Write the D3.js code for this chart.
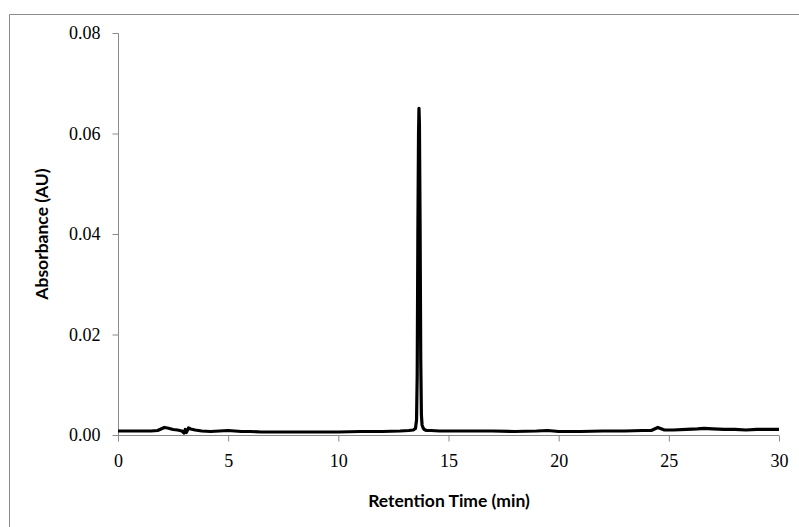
<!DOCTYPE html>
<html>
<head>
<meta charset="utf-8">
<script src="https://cdn.jsdelivr.net/npm/d3@7"></script>
<style>
  html, body { margin: 0; padding: 0; background: #fff; }
  svg { display: block; }
</style>
</head>
<body>
<svg id="chart" width="799" height="527"></svg>
<script>
// Retention time (min) and absorbance (AU)
const times = [0, 0.5, 1.0, 1.5, 1.8, 2.0, 2.1, 2.25, 2.5, 2.7, 2.9, 3.0, 3.05, 3.1, 3.2, 3.3, 3.5, 3.8, 4.2, 4.6, 5.0, 5.3, 5.6, 6.0, 6.5, 7.0, 7.5, 8.0, 9.0, 10.0, 11.0, 12.0, 12.8, 13.2, 13.4, 13.5, 13.55, 13.58, 13.61, 13.64, 13.66, 13.68, 13.71, 13.74, 13.77, 13.8, 13.85, 13.9, 14.0, 14.2, 14.6, 15.0, 16.0, 17.0, 18.0, 19.0, 19.5, 20.0, 21.0, 22.0, 23.0, 23.8, 24.2, 24.5, 24.8, 25.2, 25.8, 26.3, 26.6, 27.0, 27.5, 28.0, 28.5, 29.0, 29.5, 30.0];
const absorbance = [0.0008, 0.0008, 0.0008, 0.0008, 0.0009, 0.0013, 0.0015, 0.0014, 0.0011, 0.0010, 0.0008, 0.0004, 0.0011, 0.0005, 0.0014, 0.0012, 0.0010, 0.0008, 0.0007, 0.0008, 0.0009, 0.0008, 0.0007, 0.0007, 0.0006, 0.0006, 0.0006, 0.0006, 0.0006, 0.0006, 0.0007, 0.0007, 0.0008, 0.0009, 0.0010, 0.0013, 0.0030, 0.0120, 0.0400, 0.0600, 0.0650, 0.0620, 0.0420, 0.0150, 0.0040, 0.0020, 0.0014, 0.0011, 0.0009, 0.0009, 0.0008, 0.0008, 0.0008, 0.0008, 0.0007, 0.0008, 0.0009, 0.0007, 0.0007, 0.0008, 0.0008, 0.0009, 0.0009, 0.0015, 0.0010, 0.0010, 0.0011, 0.0012, 0.0013, 0.0012, 0.0011, 0.0011, 0.0010, 0.0011, 0.0011, 0.0011];
const xTicks = [0, 5, 10, 15, 20, 25, 30];
const yTicks = [0.00, 0.02, 0.04, 0.06, 0.08];
const xTitle = "Retention Time (min)";
const yTitle = "Absorbance (AU)";

const svg = d3.select("#chart");
const W = 799, H = 527;

// outer chart frame
svg.append("path")
  .attr("d", `M9.5,${H + 2} V14.5 H${W + 2}`)
  .attr("fill", "none")
  .attr("stroke", "#8c8c8c")
  .attr("stroke-width", 1);

const x = d3.scaleLinear().domain([0, 30]).range([118, 779]);
const y = d3.scaleLinear().domain([0, 0.08]).range([435, 33]);

const axisColor = "#8a8a8a";

// y axis
const gy = svg.append("g")
  .attr("transform", "translate(118.5,0)")
  .call(d3.axisLeft(y).tickValues(yTicks).tickFormat(d3.format(".2f")).tickSize(6).tickPadding(12));
// x axis
const gx = svg.append("g")
  .attr("transform", "translate(0,435.5)")
  .call(d3.axisBottom(x).tickValues(xTicks).tickFormat(d3.format("d")).tickSize(6).tickPadding(13));

[gx, gy].forEach(g => {
  g.select(".domain").attr("stroke", axisColor).attr("stroke-width", 1);
  g.selectAll(".tick line").attr("stroke", axisColor).attr("stroke-width", 1);
  g.selectAll(".tick text")
    .attr("fill", "#000")
    .style("font-family", "'Liberation Serif', serif")
    .style("font-size", "18px");
});
gy.select(".domain").attr("d", "M0,33.5V435.5");
gx.select(".domain").attr("d", "M118,0H779");

// line
const data = times.map((t, i) => ({ t, v: absorbance[i] }));
svg.append("path")
  .datum(data)
  .attr("fill", "none")
  .attr("stroke", "#000")
  .attr("stroke-width", 3.2)
  .attr("stroke-linejoin", "round")
  .attr("d", d3.line().x(d => x(d.t)).y(d => y(d.v)));

// titles
svg.append("text")
  .attr("x", 449).attr("y", 507)
  .attr("text-anchor", "middle")
  .style("font-family", "Lato, 'Open Sans', sans-serif")
  .style("font-weight", "bold")
  .style("font-size", "17.5px")
  .text(xTitle);

svg.append("text")
  .attr("transform", "translate(48,234) rotate(-90)")
  .attr("text-anchor", "middle")
  .style("font-family", "Lato, 'Open Sans', sans-serif")
  .style("font-weight", "bold")
  .style("font-size", "17.5px")
  .text(yTitle);
</script>
</body>
</html>
